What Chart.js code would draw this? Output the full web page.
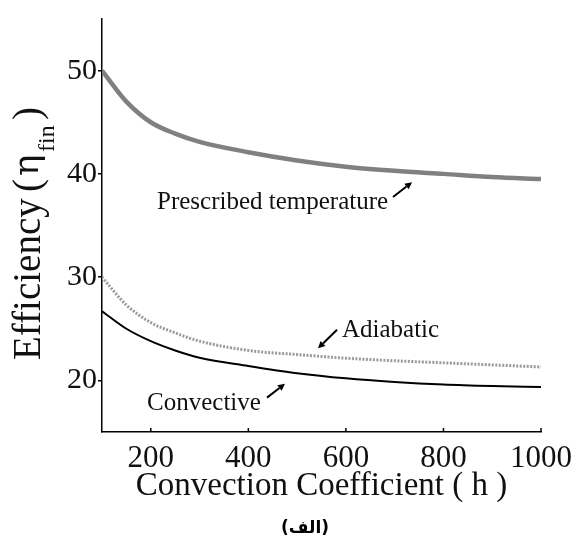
<!DOCTYPE html>
<html><head><meta charset="utf-8">
<script src="https://cdn.jsdelivr.net/npm/chart.js@4"></script>
<style>html,body{margin:0;padding:0;background:#fff}#c{display:block}</style></head>
<body><canvas id="c" width="584" height="545"></canvas>
<script>
const H = [100,150,200,250,300,400,500,600,700,800,900,1000];
const prescribed = [50.0,47.0,45.0,43.9,43.1,42.1,41.3,40.7,40.3,40.0,39.7,39.5];
const adiabatic  = [30.0,27.3,25.6,24.6,23.8,22.9,22.5,22.15,21.9,21.7,21.5,21.3];
const convective = [26.7,25.0,23.8,22.9,22.2,21.4,20.7,20.2,19.85,19.6,19.45,19.35];
const xTicks = [200,400,600,800,1000];
const yTicks = [20,30,40,50];
const labels = {
  prescribed: 'Prescribed temperature',
  adiabatic: 'Adiabatic',
  convective: 'Convective',
  xTitle: 'Convection Coefficient ( h )',
  yTitle: 'Efficiency',
  yOpen: '(', eta: 'η', sub: 'fin', yClose: ')',
  caption: '(الف)'
};
// annotation anchors in data units: [textH, textV, arrowTailH, arrowTailV, arrowHeadH, arrowHeadV]
const annPrescribed = [212.8,36.6, 696.6,37.76, 735.6,39.19];
const annAdiabatic  = [592,24.24, 581.8,24.9, 542.8,23.1];
const annConvective = [192.3,17.1, 438.3,18.33, 475.2,19.67];

const SERIF = '"Liberation Serif","DejaVu Serif",serif';
const pts = arr => H.map((h,i)=>({x:h,y:arr[i]}));

function arrow(ctx,x1,y1,x2,y2){
  ctx.save();
  ctx.strokeStyle='#000'; ctx.fillStyle='#000'; ctx.lineWidth=2;
  const a=Math.atan2(y2-y1,x2-x1), L=7, w=3.5;
  const bx=x2-L*Math.cos(a), by=y2-L*Math.sin(a);
  ctx.beginPath(); ctx.moveTo(x1,y1); ctx.lineTo(bx,by); ctx.stroke();
  ctx.beginPath(); ctx.moveTo(x2,y2);
  ctx.lineTo(bx+w*Math.sin(a), by-w*Math.cos(a));
  ctx.lineTo(bx-w*Math.sin(a), by+w*Math.cos(a));
  ctx.closePath(); ctx.fill();
  ctx.restore();
}

const decor = {
  id:'decor',
  afterDraw(chart){
    const ctx=chart.ctx, xs=chart.scales.x, ys=chart.scales.y, ca=chart.chartArea;
    // inward x ticks
    ctx.save(); ctx.strokeStyle='#000'; ctx.lineWidth=1.5;
    xTicks.forEach(t=>{const px=xs.getPixelForValue(t); ctx.beginPath(); ctx.moveTo(px,ca.bottom); ctx.lineTo(px,ca.bottom-4); ctx.stroke();});
    ctx.restore();
    // annotations
    ctx.save(); ctx.fillStyle='#111'; ctx.font='25px '+SERIF; ctx.textBaseline='alphabetic'; ctx.textAlign='left';
    [[annPrescribed,labels.prescribed],[annAdiabatic,labels.adiabatic],[annConvective,labels.convective]].forEach(([a,t])=>{
      ctx.fillText(t, xs.getPixelForValue(a[0]), ys.getPixelForValue(a[1]));
      arrow(ctx, xs.getPixelForValue(a[2]), ys.getPixelForValue(a[3]), xs.getPixelForValue(a[4]), ys.getPixelForValue(a[5]));
    });
    ctx.restore();
    // x title
    ctx.save(); ctx.fillStyle='#111'; ctx.font='33px '+SERIF; ctx.textAlign='center'; ctx.textBaseline='alphabetic';
    ctx.fillText(labels.xTitle,(ca.left+ca.right)/2,495);
    ctx.restore();
    // y title (rotated)
    ctx.save(); ctx.fillStyle='#111';
    ctx.translate(40,360); ctx.rotate(-Math.PI/2);
    ctx.textBaseline='alphabetic'; ctx.textAlign='left';
    ctx.font='39px '+SERIF;
    ctx.fillText(labels.yTitle,0,0);
    ctx.fillText(labels.yOpen,360-192,0);
    ctx.font='36px "DejaVu Serif",serif';
    ctx.fillText(labels.eta,360-176,-2);
    ctx.font='24px '+SERIF;
    ctx.fillText(labels.sub,360-152,14);
    ctx.font='39px '+SERIF;
    ctx.fillText(labels.yClose,360-120,0);
    ctx.restore();
    // caption
    ctx.save(); ctx.fillStyle='#000'; ctx.font='bold 17px "DejaVu Sans",sans-serif'; ctx.textAlign='center'; ctx.textBaseline='middle';
    ctx.direction='rtl';
    ctx.fillText(labels.caption,305,529);
    ctx.restore();
  }
};

new Chart(document.getElementById('c'),{
  type:'line',
  data:{datasets:[
    {label:'Prescribed temperature',data:pts(prescribed),borderColor:'#808080',borderWidth:4.5,pointRadius:0,cubicInterpolationMode:'monotone'},
    {label:'Adiabatic',data:pts(adiabatic),borderColor:'#9a9a9a',borderWidth:3,borderDash:[2,1.5],pointRadius:0,cubicInterpolationMode:'monotone'},
    {label:'Convective',data:pts(convective),borderColor:'#000',borderWidth:2,pointRadius:0,cubicInterpolationMode:'monotone'}
  ]},
  options:{
    responsive:false, animation:false, devicePixelRatio:1,
    layout:{padding:{top:12,right:43,left:0,bottom:0}},
    plugins:{legend:{display:false},tooltip:{enabled:false}},
    scales:{
      x:{type:'linear',min:100,max:1000,
        afterBuildTicks(s){s.ticks=xTicks.map(v=>({value:v}));},
        afterFit(s){s.height=113;},
        grid:{display:true,drawOnChartArea:false,drawTicks:false,color:'#000'},
        border:{display:true,color:'#000',width:1.5},
        ticks:{padding:8,color:'#111',font:{family:SERIF,size:31},maxRotation:0,autoSkip:false,callback:v=>String(v)}
      },
      y:{type:'linear',min:15,max:55,
        afterBuildTicks(s){s.ticks=yTicks.map(v=>({value:v}));},
        afterFit(s){s.width=102;},
        grid:{display:true,drawOnChartArea:false,drawTicks:true,tickLength:4,color:'#000',lineWidth:1.5},
        border:{display:true,color:'#000',width:1.5},
        ticks:{padding:1,color:'#111',font:{family:SERIF,size:30},callback:v=>String(v)}
      }
    }
  },
  plugins:[decor]
});
</script></body></html>
